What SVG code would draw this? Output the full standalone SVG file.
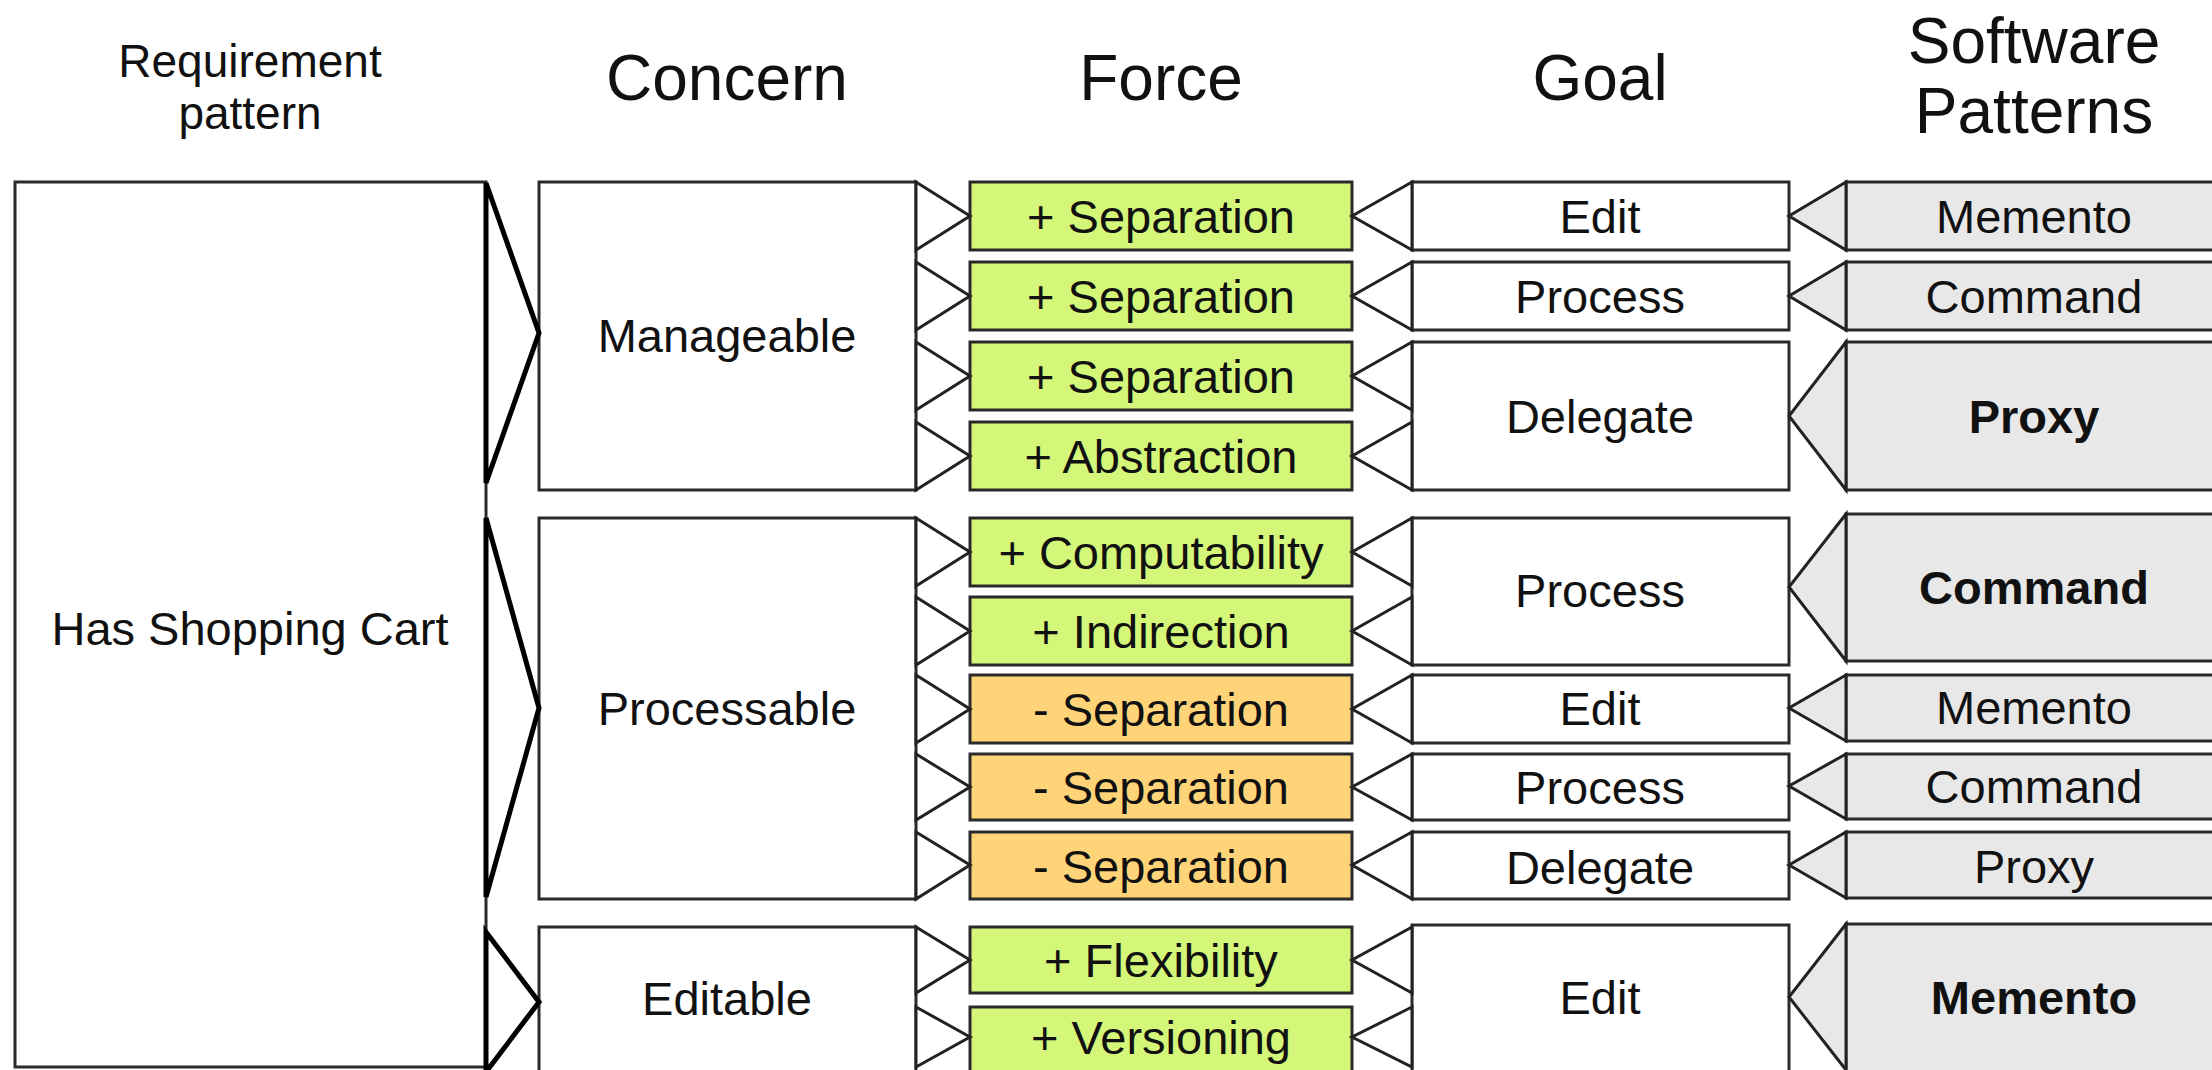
<svg xmlns="http://www.w3.org/2000/svg" width="2212" height="1070" viewBox="0 0 2212 1070">
<style>
text{font-family:"Liberation Sans",Arial,Helvetica,sans-serif;fill:#111;text-anchor:middle}
.hdr{font-size:64px}
.hdr2{font-size:46px}
.lbl{font-size:47px}
.b{font-weight:bold}
.box{fill:#fff;stroke:#2a2a2a;stroke-width:3}
.plus{fill:#d4f779;stroke:#2a2a2a;stroke-width:3}
.minus{fill:#ffd479;stroke:#2a2a2a;stroke-width:3}
.pat{fill:#e8e8e8;stroke:#2a2a2a;stroke-width:3}
.thick{fill:#fff;stroke:#000;stroke-width:5;stroke-linejoin:miter}
.tri{fill:#fff;stroke:#222;stroke-width:3}
.trig{fill:#e8e8e8;stroke:#222;stroke-width:3}
</style>
<rect width="2212" height="1070" fill="#fff"/>
<g id="headers">
<text class="hdr2" x="250" y="77">Requirement</text>
<text class="hdr2" x="250" y="129">pattern</text>
<text class="hdr" x="727" y="100">Concern</text>
<text class="hdr" x="1161" y="100">Force</text>
<text class="hdr" x="1600" y="100">Goal</text>
<text class="hdr" x="2034" y="63">Software</text>
<text class="hdr" x="2034" y="133">Patterns</text>
</g>
<g id="req">
<rect class="box" x="15" y="182" width="471" height="885"/>
<text class="lbl" x="250" y="645">Has Shopping Cart</text>
</g>
<g id="concern-manageable"><rect class="box" x="539" y="182" width="377" height="308"/><text class="lbl" x="727" y="352">Manageable</text></g>
<g id="concern-processable"><rect class="box" x="539" y="518" width="377" height="381"/><text class="lbl" x="727" y="725">Processable</text></g>
<g id="concern-editable"><rect class="box" x="539" y="927" width="377" height="150"/><text class="lbl" x="727" y="1015">Editable</text></g>

<g id="force-1"><rect class="plus" x="970" y="182" width="382" height="68"/><text class="lbl" x="1161" y="233">+ Separation</text></g>
<g id="force-2"><rect class="plus" x="970" y="262" width="382" height="68"/><text class="lbl" x="1161" y="313">+ Separation</text></g>
<g id="force-3"><rect class="plus" x="970" y="342" width="382" height="68"/><text class="lbl" x="1161" y="393">+ Separation</text></g>
<g id="force-4"><rect class="plus" x="970" y="422" width="382" height="68"/><text class="lbl" x="1161" y="473">+ Abstraction</text></g>
<g id="force-5"><rect class="plus" x="970" y="518" width="382" height="68"/><text class="lbl" x="1161" y="569">+ Computability</text></g>
<g id="force-6"><rect class="plus" x="970" y="597" width="382" height="68"/><text class="lbl" x="1161" y="648">+ Indirection</text></g>
<g id="force-7"><rect class="minus" x="970" y="675" width="382" height="68"/><text class="lbl" x="1161" y="726">- Separation</text></g>
<g id="force-8"><rect class="minus" x="970" y="754" width="382" height="66"/><text class="lbl" x="1161" y="804">- Separation</text></g>
<g id="force-9"><rect class="minus" x="970" y="832" width="382" height="67"/><text class="lbl" x="1161" y="883">- Separation</text></g>
<g id="force-10"><rect class="plus" x="970" y="927" width="382" height="66"/><text class="lbl" x="1161" y="977">+ Flexibility</text></g>
<g id="force-11"><rect class="plus" x="970" y="1007" width="382" height="70"/><text class="lbl" x="1161" y="1054">+ Versioning</text></g>

<g id="goal-1"><rect class="box" x="1412" y="182" width="377" height="68"/><text class="lbl" x="1600" y="233">Edit</text></g>
<g id="goal-2"><rect class="box" x="1412" y="262" width="377" height="68"/><text class="lbl" x="1600" y="313">Process</text></g>
<g id="goal-3"><rect class="box" x="1412" y="342" width="377" height="148"/><text class="lbl" x="1600" y="433">Delegate</text></g>
<g id="goal-4"><rect class="box" x="1412" y="518" width="377" height="147"/><text class="lbl" x="1600" y="607">Process</text></g>
<g id="goal-5"><rect class="box" x="1412" y="675" width="377" height="68"/><text class="lbl" x="1600" y="725">Edit</text></g>
<g id="goal-6"><rect class="box" x="1412" y="754" width="377" height="66"/><text class="lbl" x="1600" y="804">Process</text></g>
<g id="goal-7"><rect class="box" x="1412" y="832" width="377" height="67"/><text class="lbl" x="1600" y="884">Delegate</text></g>
<g id="goal-8"><rect class="box" x="1412" y="925" width="377" height="152"/><text class="lbl" x="1600" y="1014">Edit</text></g>

<g id="pattern-1"><rect class="pat" x="1846" y="182" width="390" height="68"/><text class="lbl" x="2034" y="233">Memento</text></g>
<g id="pattern-2"><rect class="pat" x="1846" y="262" width="390" height="68"/><text class="lbl" x="2034" y="313">Command</text></g>
<g id="pattern-3"><rect class="pat" x="1846" y="342" width="390" height="148"/><text class="lbl b" x="2034" y="433">Proxy</text></g>
<g id="pattern-4"><rect class="pat" x="1846" y="514" width="390" height="147"/><text class="lbl b" x="2034" y="604">Command</text></g>
<g id="pattern-5"><rect class="pat" x="1846" y="675" width="390" height="66"/><text class="lbl" x="2034" y="724">Memento</text></g>
<g id="pattern-6"><rect class="pat" x="1846" y="754" width="390" height="65"/><text class="lbl" x="2034" y="803">Command</text></g>
<g id="pattern-7"><rect class="pat" x="1846" y="832" width="390" height="66"/><text class="lbl" x="2034" y="883">Proxy</text></g>
<g id="pattern-8"><rect class="pat" x="1846" y="924" width="390" height="153"/><text class="lbl b" x="2034" y="1014">Memento</text></g>

<g id="connectors">
<polygon class="thick" points="486,183 539,333 486,483"/>
<polygon class="thick" points="486,518 539,708 486,897"/>
<polygon class="thick" points="486,932 539,1002 486,1072"/>

<polygon class="tri" points="916,182 970,216 916,250"/>
<polygon class="tri" points="916,262 970,296 916,330"/>
<polygon class="tri" points="916,342 970,376 916,410"/>
<polygon class="tri" points="916,422 970,456 916,490"/>
<polygon class="tri" points="916,518 970,552 916,586"/>
<polygon class="tri" points="916,597 970,631 916,665"/>
<polygon class="tri" points="916,675 970,709 916,743"/>
<polygon class="tri" points="916,754 970,787 916,820"/>
<polygon class="tri" points="916,832 970,865 916,899"/>
<polygon class="tri" points="916,927 970,960 916,993"/>
<polygon class="tri" points="916,1007 970,1037 916,1067"/>

<polygon class="tri" points="1412,182 1352,216 1412,250"/>
<polygon class="tri" points="1412,262 1352,296 1412,330"/>
<polygon class="tri" points="1412,342 1352,376 1412,410"/>
<polygon class="tri" points="1412,422 1352,456 1412,490"/>
<polygon class="tri" points="1412,518 1352,552 1412,586"/>
<polygon class="tri" points="1412,597 1352,631 1412,665"/>
<polygon class="tri" points="1412,675 1352,709 1412,743"/>
<polygon class="tri" points="1412,754 1352,787 1412,820"/>
<polygon class="tri" points="1412,832 1352,865 1412,899"/>
<polygon class="tri" points="1412,927 1352,960 1412,993"/>
<polygon class="tri" points="1412,1007 1352,1037 1412,1067"/>

<polygon class="trig" points="1846,182 1789,216 1846,250"/>
<polygon class="trig" points="1846,262 1789,296 1846,330"/>
<polygon class="trig" points="1846,342 1789,416 1846,490"/>
<polygon class="trig" points="1846,514 1789,587 1846,661"/>
<polygon class="trig" points="1846,675 1789,708 1846,741"/>
<polygon class="trig" points="1846,754 1789,786 1846,819"/>
<polygon class="trig" points="1846,832 1789,865 1846,898"/>
<polygon class="trig" points="1846,924 1789,997 1846,1070"/>
</g>
</svg>
